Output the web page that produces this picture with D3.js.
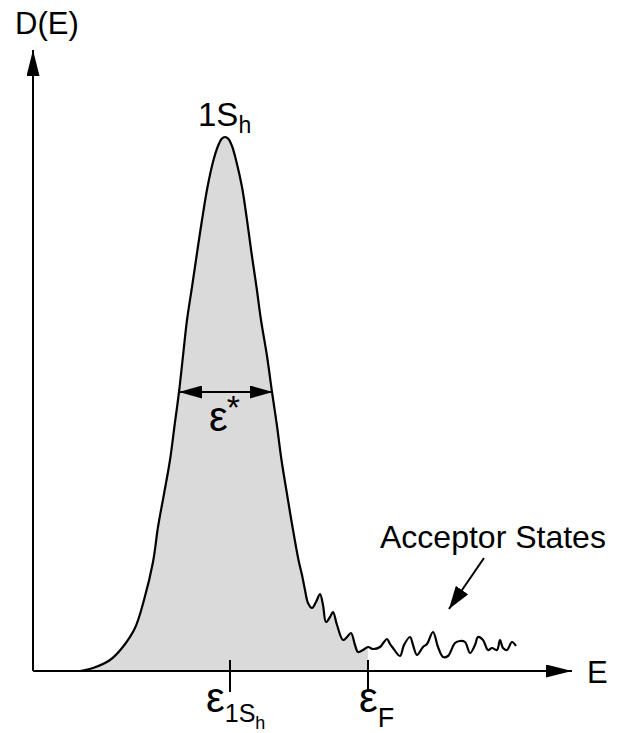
<!DOCTYPE html>
<html>
<head>
<meta charset="utf-8">
<script src="https://cdn.jsdelivr.net/npm/d3@7"></script>
<style>
  html, body { margin: 0; padding: 0; background: #fff; }
  svg { display: block; }
  text { font-family: "Liberation Sans", Arial, Helvetica, sans-serif; fill: #000; }
</style>
</head>
<body>
<svg id="chart" width="636" height="733"></svg>
<script>
// Density of states D(E): 1S_h band followed by a tail of acceptor states
const energy = [
  4.7, 6.0, 7.7, 8.9, 10.2, 11.1, 12.0, 12.5, 13.1, 13.7, 14.15, 14.6, 15.0, 15.4, 15.9,
  16.4, 16.9, 17.45, 18.05, 18.5, 18.85, 19.2, 19.55, 19.9, 20.3, 20.9, 21.4, 21.85, 22.35,
  22.8, 23.4, 23.9, 24.4, 24.85, 25.4, 25.95, 26.55, 26.9, 27.2, 27.5, 27.9, 28.3, 28.7,
  29.0, 29.3, 29.7, 30.0, 30.4, 31.0, 31.4, 31.8, 32.2, 32.5, 33.0, 33.5, 34.0, 34.7,
  35.1, 35.4, 35.7, 36.0, 36.7, 37.1, 37.7, 38.0, 38.4, 39.0, 39.4, 40.0, 40.5, 41.0,
  41.5, 42.2, 42.7, 43.2, 43.7, 44.2, 44.5, 45.0, 45.5, 45.9, 46.4, 46.7, 47.0, 47.4,
  47.9, 48.3
];
const density = [
  0.0, 0.3, 1.1, 2.3, 4.3, 7.1, 10.9, 14.4, 17.7, 21.1, 24.5, 27.9, 31.5, 35.1, 38.4,
  41.8, 45.1, 48.4, 51.1, 52.5, 53.2, 53.4, 53.2, 52.5, 51.1, 48.4, 45.1, 41.8, 38.4,
  35.1, 31.5, 27.9, 24.5, 21.1, 17.7, 14.4, 11.1, 9.6, 8.1, 6.8, 6.3, 6.9, 7.7,
  6.6, 4.9, 5.4, 5.9, 4.6, 3.1, 3.4, 3.8, 2.6, 1.9, 2.1, 2.4, 2.2, 2.4,
  2.9, 3.2, 2.7, 2.3, 1.5, 2.6, 3.4, 2.6, 1.6, 2.4, 2.7, 3.9, 2.4, 1.4,
  1.5, 2.8, 3.0, 2.9, 1.8, 2.6, 3.4, 3.1, 2.1, 2.3, 2.1, 3.1, 2.3, 2.1,
  2.9, 2.5
];

// Marked energies on the E axis
const markEnergies = [19.7, 33.5];      // ε_1Sh, ε_F
const fermiEnergy = 33.5;
// Width marker ε* across the peak (from E, to E, at D)
const widthMarker = [14.6, 24.0, 27.9];
// Pointer to the acceptor tail (from E,D to E,D)
const acceptorArrow = [[45.1, 11.3], [41.6, 6.2]];

const svg = d3.select("#chart");

const x = d3.scaleLinear().domain([0, 53.9]).range([33, 572]);
const y = d3.scaleLinear().domain([0, 62.1]).range([671, 50]);

const pts = energy.map((e, i) => [e, density[i]]);

// arrowhead markers
const defs = svg.append("defs");
function marker(id, len, half) {
  defs.append("marker")
    .attr("id", id)
    .attr("viewBox", `0 ${-half} ${len} ${half * 2}`)
    .attr("refX", len).attr("refY", 0)
    .attr("markerUnits", "userSpaceOnUse")
    .attr("markerWidth", len).attr("markerHeight", half * 2)
    .attr("orient", "auto-start-reverse")
    .append("path")
    .attr("d", `M0,${-half}L${len},0L0,${half}Z`)
    .attr("fill", "#000");
}
marker("axisHead", 26, 6.5);
marker("smallHead", 23, 6.5);
marker("ptrHead", 23, 7.5);

defs.append("clipPath").attr("id", "fillClip")
  .append("rect")
  .attr("x", x(0)).attr("y", 0)
  .attr("width", x(fermiEnergy) - x(0)).attr("height", 733);

const curve = d3.curveCatmullRom.alpha(0.5);

// shaded occupied states, up to the Fermi energy
svg.append("path")
  .datum(pts)
  .attr("clip-path", "url(#fillClip)")
  .attr("fill", "#dadada")
  .attr("d", d3.area()
    .x(d => x(d[0])).y0(y(0)).y1(d => y(d[1]))
    .curve(curve));

// axes
svg.append("line")
  .attr("x1", x(0)).attr("y1", y(0)).attr("x2", x(0)).attr("y2", y(62.1))
  .attr("stroke", "#000").attr("stroke-width", 2)
  .attr("marker-end", "url(#axisHead)");
svg.append("line")
  .attr("x1", x(0)).attr("y1", y(0)).attr("x2", x(53.9)).attr("y2", y(0))
  .attr("stroke", "#000").attr("stroke-width", 2)
  .attr("marker-end", "url(#axisHead)");

// tick marks at ε_1Sh and ε_F
svg.selectAll("line.mark")
  .data(markEnergies)
  .join("line")
  .attr("class", "mark")
  .attr("x1", d => x(d)).attr("x2", d => x(d))
  .attr("y1", y(0) - 11).attr("y2", y(0) + 21)
  .attr("stroke", "#000").attr("stroke-width", 2);

// the D(E) curve
svg.append("path")
  .datum(pts)
  .attr("fill", "none")
  .attr("stroke", "#000")
  .attr("stroke-width", 2.2)
  .attr("stroke-linejoin", "round")
  .attr("d", d3.line()
    .x(d => x(d[0])).y(d => y(d[1]))
    .curve(curve));

// ε* double arrow
svg.append("line")
  .attr("x1", x(widthMarker[0])).attr("x2", x(widthMarker[1]))
  .attr("y1", y(widthMarker[2])).attr("y2", y(widthMarker[2]))
  .attr("stroke", "#000").attr("stroke-width", 2)
  .attr("marker-start", "url(#smallHead)")
  .attr("marker-end", "url(#smallHead)");

// pointer to acceptor states
svg.append("line")
  .attr("x1", x(acceptorArrow[0][0])).attr("y1", y(acceptorArrow[0][1]))
  .attr("x2", x(acceptorArrow[1][0])).attr("y2", y(acceptorArrow[1][1]))
  .attr("stroke", "#000").attr("stroke-width", 2)
  .attr("marker-end", "url(#ptrHead)");

// labels
svg.append("text").attr("x", 15).attr("y", 34)
  .style("font-size", "31px").text("D(E)");

svg.append("text").attr("x", 587).attr("y", 683)
  .style("font-size", "31px").text("E");

const peak = svg.append("text").attr("x", 198).attr("y", 126).style("font-size", "33px");
peak.append("tspan").text("1S");
peak.append("tspan").attr("dy", 7).style("font-size", "23px").text("h");

const eps = svg.append("text").attr("x", 209).attr("y", 431);
eps.append("tspan").style("font-size", "42px").text("ε");
eps.append("tspan").attr("dx", -1).attr("dy", -12).style("font-size", "34px").text("*");

svg.append("text").attr("x", 380).attr("y", 548)
  .style("font-size", "32px").text("Acceptor States");

const e1 = svg.append("text").attr("x", 206).attr("y", 712);
e1.append("tspan").style("font-size", "42px").text("ε");
e1.append("tspan").attr("dy", 10).style("font-size", "25px").text("1S");
e1.append("tspan").attr("dy", 7).style("font-size", "18px").text("h");

const ef = svg.append("text").attr("x", 359).attr("y", 712);
ef.append("tspan").style("font-size", "42px").text("ε");
ef.append("tspan").attr("dy", 15).style("font-size", "27px").text("F");
</script>
</body>
</html>
